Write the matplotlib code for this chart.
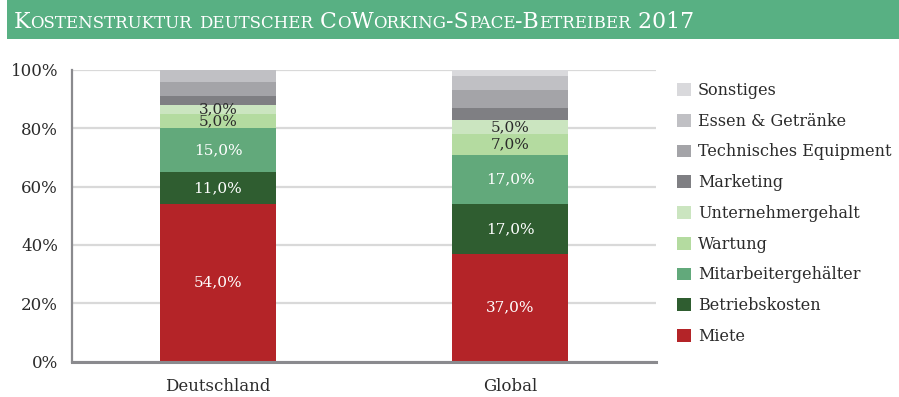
import matplotlib
matplotlib.use("Agg")
import matplotlib.pyplot as plt
from matplotlib.patches import Rectangle, Patch
import numpy as np

# --- data -------------------------------------------------------------
categories = ["Deutschland", "Global"]
segments = ["Miete", "Betriebskosten", "Mitarbeitergehälter", "Wartung",
            "Unternehmergehalt", "Marketing", "Technisches Equipment",
            "Essen & Getränke", "Sonstiges"]
miete = [54, 37]
betriebskosten = [11, 17]
mitarbeiter = [15, 17]
wartung = [5, 7]
unternehmer = [3, 5]
marketing = [3, 4]
technik = [5, 6]
essen = [4, 5]
sonstiges = [0, 2]
series = [miete, betriebskosten, mitarbeiter, wartung, unternehmer,
          marketing, technik, essen, sonstiges]
# which segments carry a value label
labelled = [True, True, True, True, True, False, False, False, False]
yticks = [0, 20, 40, 60, 80, 100]

colors = ["#b42428", "#2f5d30", "#62a97b", "#b4dba0", "#cbe5c0",
          "#7f7f83", "#a4a4a8", "#c0c0c4", "#d9d9dc"]
label_colors = ["white", "white", "white", "#2b2b2b", "#2b2b2b"]

SERIF = ["DejaVu Serif"]
TXT = "#2b2b2b"

fig = plt.figure(figsize=(8.99, 3.97), dpi=100)
fig.patch.set_facecolor("white")

# header band
fig.patches.append(Rectangle((7 / 899, 1 - 39 / 397), 1 - 7 / 899, 39 / 397,
                             transform=fig.transFigure, facecolor="#58b083",
                             edgecolor="none", zorder=0))

ax = fig.add_axes([72 / 899, 1 - 361.5 / 397, (656 - 72) / 899, (361.5 - 70) / 397])
x = np.arange(len(categories))
bottom = np.zeros(len(categories))
for vals, col, lab, has_label, i in zip(series, colors, segments, labelled, range(len(series))):
    vals = np.array(vals, dtype=float)
    ax.bar(x, vals, 0.4, bottom=bottom, color=col, edgecolor="none", label=lab, zorder=3)
    if has_label:
        for xi, v, b in zip(x, vals, bottom):
            if v > 0:
                ax.text(xi, b + v / 2, f"{v:.1f}%".replace(".", ","),
                        ha="center", va="center", fontsize=11,
                        family=SERIF, color=label_colors[i], zorder=4)
    bottom += vals

ax.set_xlim(-0.5, 1.5)
ax.set_ylim(0, 100)
ax.set_yticks(yticks)
ax.set_yticklabels([f"{t}%" for t in yticks], family=SERIF, fontsize=12, color=TXT)
ax.set_xticks(x)
ax.set_xticklabels(categories, family=SERIF, fontsize=12, color=TXT)
ax.tick_params(axis="both", length=0)
ax.tick_params(axis="y", pad=10)
ax.tick_params(axis="x", pad=12)
ax.yaxis.grid(True, color="#d9d9d9", linewidth=1.6, zorder=0)
ax.set_axisbelow(True)
for s in ["top", "right"]:
    ax.spines[s].set_visible(False)
ax.spines["left"].set_color("#8a8a8e")
ax.spines["left"].set_linewidth(1.6)
ax.spines["bottom"].set_color("#8a8a8e")
ax.spines["bottom"].set_linewidth(2.2)
ax.spines["left"].set_zorder(5)
ax.spines["bottom"].set_zorder(5)

# legend, top entry first
handles = [Patch(facecolor=c, edgecolor="none") for c in colors][::-1]
names = segments[::-1]
leg = fig.legend(handles, names, loc="upper left",
                 bbox_to_anchor=(677 / 899, 1 - 82 / 397),
                 frameon=False, prop={"family": SERIF, "size": 11.5},
                 handlelength=0.85, handleheight=0.85, handletextpad=0.45,
                 labelspacing=0.86, borderaxespad=0, borderpad=0)
for t in leg.get_texts():
    t.set_color(TXT)

# small-caps title
title = "Kostenstruktur deutscher CoWorking-Space-Betreiber 2017"
big, small = 15.8, 12
fig.canvas.draw()
renderer = fig.canvas.get_renderer()
xpos = 14 / 899
ybase = 1 - 27.5 / 397
runs = []
for ch in title:
    is_big = not ch.islower()
    if runs and runs[-1][1] == is_big:
        runs[-1][0] += ch
    else:
        runs.append([ch, is_big])
for text, is_big in runs:
    t = fig.text(xpos, ybase, text.upper(), fontsize=big if is_big else small,
                 family=SERIF, color="white", ha="left", va="baseline")
    bb = t.get_window_extent(renderer=renderer)
    xpos += bb.width / fig.bbox.width

fig.savefig("out.png", dpi=100)
